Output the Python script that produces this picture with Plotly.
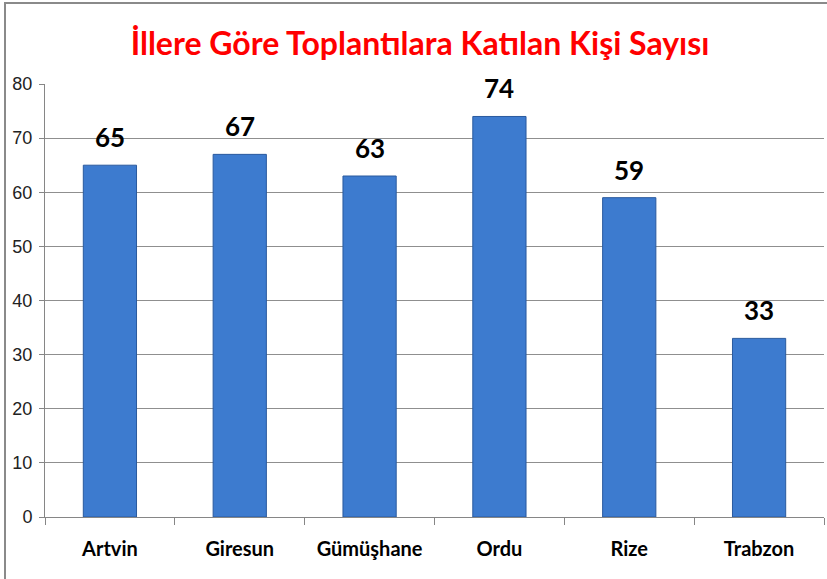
import plotly.graph_objects as go

categories = ["Artvin", "Giresun", "Gümüşhane", "Ordu", "Rize", "Trabzon"]
values = [65, 67, 63, 74, 59, 33]
y_ticks = [0, 10, 20, 30, 40, 50, 60, 70, 80]

W, H = 827, 579
ml, mr, mt, mb = 45, 3, 84, 62

fig = go.Figure()
fig.add_trace(go.Bar(
    x=categories, y=values, width=0.41,
    marker=dict(color="#3d7bcf", line=dict(color="#2a5a9e", width=1)),
    cliponaxis=False, hoverinfo="skip",
))

for c, v in zip(categories, values):
    fig.add_annotation(x=c, y=v, text=str(v), showarrow=False,
                       yanchor="bottom", yshift=10,
                       font=dict(family="Lato", size=26, color="#000000", weight="bold"))

pw = W - ml - mr
ph = H - mt - mb
def px_x(p): return (p - ml) / pw
def px_y(p): return (H - mb - p) / ph

fig.update_layout(
    width=W, height=H,
    margin=dict(l=ml, r=mr, t=mt, b=mb, autoexpand=False),
    paper_bgcolor="white", plot_bgcolor="white",
    showlegend=False,
    title=dict(text="İllere Göre Toplantılara Katılan Kişi Sayısı",
               x=0.508, xanchor="center", y=1 - 44 / H, yanchor="middle",
               font=dict(family="Lato", size=32, color="#ff0000", weight="bold")),
    xaxis=dict(type="category", showline=True, linecolor="#868686", linewidth=1,
               ticks="outside", tickson="boundaries", ticklen=7, tickcolor="#868686",
               tickfont=dict(family="Lato", size=20, color="#000000", weight="bold"),
               ticklabelstandoff=14,
               showgrid=False),
    yaxis=dict(range=[0, 80], tickvals=y_ticks, showline=True, linecolor="#868686",
               linewidth=1, ticks="outside", ticklen=5, tickcolor="#868686",
               tickfont=dict(family="Liberation Sans", size=18, color="#222222"),
               ticklabelstandoff=3,
               gridcolor="#8f8f8f", gridwidth=1, zeroline=False),
    shapes=[dict(type="rect", xref="paper", yref="paper",
                 x0=px_x(5), x1=px_x(835), y0=px_y(590), y1=px_y(3),
                 line=dict(color="#8a8a8a", width=2), fillcolor="rgba(0,0,0,0)",
                 layer="below")],
)

fig.write_html("out.html", config={"displayModeBar": False},
               post_script="document.body.style.margin='0';")
